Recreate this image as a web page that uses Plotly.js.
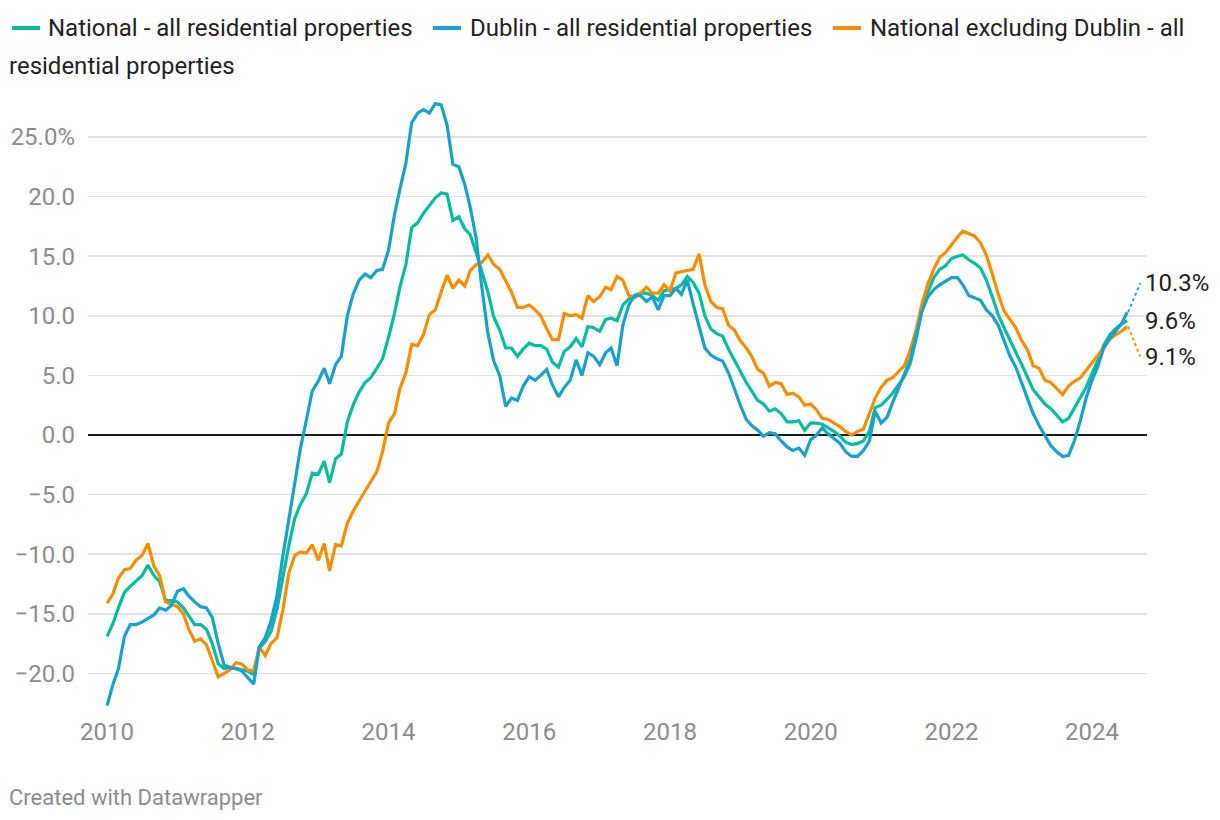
<!DOCTYPE html>
<html>
<head>
<meta charset="utf-8">
<script src="https://cdn.plot.ly/plotly-3.0.1.min.js"></script>
<style>
  html, body { margin: 0; padding: 0; background: #fff; }
  #chart { width: 1220px; height: 820px; }
</style>
</head>
<body>
<div id="chart"></div>
<script>
// ---- Data (monthly, Jan 2010 .. Jul 2024), annual % change ----
const startYear = 2010;
const startMonth = 1;

const national = [
  -16.9, -15.8, -14.5, -13.2, -12.7, -12.2, -11.8, -10.9, -11.8, -12.3, -13.9, -13.9,
  -14.0, -14.5, -15.2, -15.9, -15.9, -16.3, -17.5, -19.2, -19.6, -19.5, -19.6, -19.7,
  -19.8, -20.1, -17.9, -17.3, -16.5, -14.6, -11.8, -9.3, -7.0, -5.8, -4.9, -3.2,
  -3.3, -2.2, -4.0, -2.0, -1.6, 1.1, 2.5, 3.6, 4.4, 4.8, 5.6, 6.4,
  8.2, 10.2, 12.4, 14.3, 17.4, 17.8, 18.6, 19.3, 19.9, 20.3, 20.2, 18.0,
  18.3, 17.3, 16.8, 15.3, 13.6, 12.0, 9.9, 8.8, 7.3, 7.3, 6.6, 7.2,
  7.7, 7.5, 7.5, 7.2, 6.1, 5.7, 7.0, 7.4, 8.1, 7.4, 9.1, 9.0,
  8.7, 9.7, 9.8, 9.6, 10.9, 11.4, 11.7, 11.9, 11.9, 11.7, 11.3, 12.1,
  12.2, 12.3, 12.6, 13.3, 12.8, 11.9, 10.0, 8.9, 8.5, 8.3, 7.2, 6.3,
  5.3, 4.4, 3.7, 2.9, 2.6, 2.0, 2.2, 1.8, 1.1, 1.1, 1.2, 0.4,
  1.0, 1.0, 0.9, 0.6, 0.3, -0.1, -0.6, -0.8, -0.7, -0.5, 0.3, 2.3,
  2.5, 3.0, 3.5, 4.2, 4.9, 6.0, 8.0, 10.5, 12.0, 13.2, 13.9, 14.2,
  14.8, 15.0, 15.1, 14.7, 14.4, 14.0, 13.0, 11.6, 10.1, 9.0, 8.0, 7.0,
  5.9, 4.8, 3.8, 3.2, 2.6, 2.2, 1.7, 1.1, 1.4, 2.3, 3.1, 4.0,
  5.2, 6.3, 7.5, 8.4, 8.9, 9.3, 9.6
];

const dublin = [
  -22.7, -20.9, -19.6, -16.9, -15.9, -15.9, -15.7, -15.4, -15.1, -14.5, -14.7, -14.3,
  -13.1, -12.9, -13.5, -14.0, -14.4, -14.5, -15.3, -17.5, -19.3, -19.5, -19.6, -19.8,
  -20.4, -20.9, -17.8, -17.0, -15.6, -13.5, -10.2, -7.2, -3.9, -1.1, 1.3, 3.7,
  4.5, 5.6, 4.3, 5.9, 6.6, 10.0, 11.8, 13.0, 13.5, 13.2, 13.8, 13.9,
  15.5, 18.5, 20.6, 22.8, 26.2, 27.0, 27.3, 27.0, 27.8, 27.7, 26.0, 22.7,
  22.5, 21.0, 19.1, 16.5, 12.3, 8.5, 6.2, 5.0, 2.4, 3.1, 2.9, 4.1,
  4.9, 4.6, 5.0, 5.5, 4.2, 3.2, 4.0, 4.6, 6.3, 5.0, 6.9, 6.6,
  5.9, 6.9, 7.3, 5.8, 9.2, 10.9, 11.7, 11.7, 11.2, 11.6, 10.5, 11.7,
  11.7, 12.3, 11.8, 13.0, 11.0, 9.0, 7.3, 6.7, 6.4, 6.2, 5.2, 3.9,
  2.5, 1.3, 0.8, 0.4, -0.1, 0.2, 0.1, -0.5, -1.0, -1.3, -1.1, -1.7,
  -0.4, 0.0, 0.6, 0.1, -0.3, -0.7, -1.4, -1.8, -1.8, -1.3, -0.5, 2.0,
  1.0, 1.5, 2.7, 3.9, 5.0, 6.3, 8.3, 10.4, 11.6, 12.2, 12.6, 12.9,
  13.2, 13.2, 12.6, 11.7, 11.5, 11.3, 10.5, 10.0, 9.2, 7.9, 6.6, 5.7,
  4.4, 3.0, 1.8, 0.8, -0.1, -0.9, -1.4, -1.8, -1.7, -0.5, 1.2, 3.1,
  4.6, 5.8, 7.3, 8.1, 8.7, 9.3, 10.3
];

const exDublin = [
  -14.1, -13.3, -12.0, -11.3, -11.2, -10.5, -10.1, -9.1, -11.0, -11.8, -14.0, -14.2,
  -14.4, -15.0, -16.3, -17.3, -17.1, -17.6, -18.9, -20.3, -20.0, -19.7, -19.1, -19.2,
  -19.7, -19.8, -17.8, -18.5, -17.5, -17.0, -14.7, -11.6, -10.1, -9.8, -9.9, -9.2,
  -10.5, -9.1, -11.4, -9.2, -9.3, -7.4, -6.4, -5.5, -4.7, -3.9, -3.1, -1.4,
  1.0, 1.8, 3.9, 5.2, 7.6, 7.5, 8.4, 10.1, 10.5, 12.0, 13.4, 12.3,
  13.0, 12.5, 13.8, 14.3, 14.5, 15.1, 14.3, 13.9, 13.0, 12.0, 10.7, 10.7,
  10.9, 10.5, 10.0, 8.9, 8.0, 8.0, 10.2, 10.0, 10.1, 9.8, 11.7, 11.2,
  11.6, 12.4, 12.2, 13.3, 13.0, 11.7, 11.5, 11.9, 12.4, 11.9, 11.9, 12.6,
  12.1, 13.6, 13.7, 13.8, 13.9, 15.2, 12.6, 11.2, 10.7, 10.6, 9.2, 8.8,
  7.9, 7.3, 6.6, 5.5, 5.2, 4.1, 4.4, 4.3, 3.4, 3.5, 3.2, 2.5,
  2.6, 2.1, 1.4, 1.3, 1.0, 0.7, 0.3, 0.0, 0.3, 0.5, 1.8, 3.1,
  4.0, 4.6, 4.8, 5.3, 5.8, 7.1, 8.8, 11.0, 12.7, 13.9, 14.9, 15.3,
  16.0, 16.6, 17.1, 16.9, 16.7, 16.1, 15.1, 13.5, 11.8, 10.4, 9.7, 9.0,
  7.9, 7.1, 5.8, 5.6, 4.6, 4.4, 3.9, 3.4, 4.1, 4.5, 4.8, 5.4,
  6.0, 6.7, 7.3, 8.0, 8.4, 8.7, 9.1
];

const seriesNames = [
  "National - all residential properties",
  "Dublin - all residential properties",
  "National excluding Dublin - all residential properties"
];

const yTickVals = [-20, -15, -10, -5, 0, 5, 10, 15, 20, 25];
const yTickText = ["\u221220.0", "\u221215.0", "\u221210.0", "\u22125.0", "0.0", "5.0", "10.0", "15.0", "20.0", "25.0%"];
const xTickVals = ["2010-01-01", "2012-01-01", "2014-01-01", "2016-01-01", "2018-01-01", "2020-01-01", "2022-01-01", "2024-01-01"];
const xTickText = ["2010", "2012", "2014", "2016", "2018", "2020", "2022", "2024"];

// ---- Build month dates ----
function pad(n) { return (n < 10 ? "0" : "") + n; }
const dates = national.map((_, i) => {
  const m = startMonth - 1 + i;
  return (startYear + Math.floor(m / 12)) + "-" + pad(m % 12 + 1) + "-01";
});

// ---- Styles ----
const colors = { national: "#09bb9f", dublin: "#18a1cd", ex: "#fa8c00" };
const FONT = "Roboto, 'Noto Sans', sans-serif";
const W = 1220, H = 820;
const M = { l: 88, r: 73, t: 95, b: 108 };
const pw = W - M.l - M.r, ph = H - M.t - M.b;
const px = x => (x - M.l) / pw;
const py = y => (H - M.b - y) / ph;

// x range: 2010-01 at 107px, 2024-01 at 1092px
const t2010 = Date.UTC(2010, 0, 1), t2024 = Date.UTC(2024, 0, 1);
const msPerPx = (t2024 - t2010) / (1092 - 107);
const xr0 = new Date(t2010 - (107 - M.l) * msPerPx).toISOString().slice(0, 10);
const xr1 = new Date(t2010 + (W - M.r - 107) * msPerPx).toISOString().slice(0, 10);

// y range: 0 at 435px, 11.92 px per unit
const ppu = 11.92;
const yr = [(435 - (H - M.b)) / ppu, (435 - M.t) / ppu];

function line(name, y, color) {
  return {
    type: "scatter", mode: "lines", x: dates, y: y, name: name,
    line: { color: color, width: 3.2, shape: "linear" },
    hoverinfo: "skip", showlegend: false
  };
}

const traces = [
  line(seriesNames[0], national, colors.national),
  line(seriesNames[2], exDublin, colors.ex),
  line(seriesNames[1], dublin, colors.dublin)
];

const lastX = dates[dates.length - 1];
const fmt = v => v.toFixed(1) + "%";

const annotations = [
  // legend texts
  { text: seriesNames[0], x: px(46), y: py(28) },
  { text: seriesNames[1], x: px(468), y: py(28) },
  { text: "National excluding Dublin - all", x: px(868), y: py(28) },
  { text: "residential properties", x: px(7), y: py(66) }
].map(a => Object.assign({
  xref: "paper", yref: "paper", xanchor: "left", yanchor: "middle",
  showarrow: false, font: { family: FONT, size: 24, color: "#222" }
}, a));

// end labels
[
  { v: dublin[dublin.length - 1], ys: 29, c: colors.dublin },
  { v: national[national.length - 1], ys: 0, c: colors.national },
  { v: exDublin[exDublin.length - 1], ys: -30.5, c: colors.ex }
].forEach(o => {
  annotations.push({
    x: lastX, y: o.v, xref: "x", yref: "y", xanchor: "left", yanchor: "middle",
    xshift: 16, yshift: o.ys, text: fmt(o.v), showarrow: false,
    font: { family: FONT, size: 24, color: "#222" }
  });
});

// credit
annotations.push({
  xref: "paper", yref: "paper", x: px(7), y: py(797), xanchor: "left", yanchor: "middle",
  text: "Created with Datawrapper", showarrow: false,
  font: { family: FONT, size: 22, color: "#8c8c8c" }
});

const shapes = [];
// legend swatches
[[12, colors.national], [433, colors.dublin], [833, colors.ex]].forEach(([x0, c]) => {
  shapes.push({
    type: "line", xref: "paper", yref: "paper",
    x0: px(x0), x1: px(x0 + 28), y0: py(28), y1: py(28),
    line: { color: c, width: 4 }
  });
});
// dotted connectors from line ends to labels
[
  { v: dublin[dublin.length - 1], dy: 29, c: colors.dublin },
  { v: exDublin[exDublin.length - 1], dy: -30, c: colors.ex }
].forEach(o => {
  shapes.push({
    type: "line", xref: "x", yref: "y",
    xsizemode: "pixel", ysizemode: "pixel", xanchor: lastX, yanchor: o.v,
    x0: 1, y0: 0, x1: 13, y1: o.dy,
    line: { color: o.c, width: 2, dash: "dot" }
  });
});

const layout = {
  width: W, height: H,
  margin: M,
  paper_bgcolor: "#fff", plot_bgcolor: "#fff",
  font: { family: FONT, size: 24, color: "#8c8c8c" },
  showlegend: false,
  xaxis: {
    type: "date", range: [xr0, xr1],
    tickvals: xTickVals, ticktext: xTickText,
    showgrid: false, zeroline: false, showline: false, ticks: "",
    tickfont: { family: FONT, size: 24, color: "#8c8c8c" },
    ticklabelstandoff: 3
  },
  yaxis: {
    range: yr,
    tickvals: yTickVals, ticktext: yTickText,
    showgrid: true, gridcolor: "#e3e3e3", gridwidth: 1.5,
    zeroline: true, zerolinecolor: "#1a1a1a", zerolinewidth: 2,
    showline: false, ticks: "",
    tickfont: { family: FONT, size: 24, color: "#8c8c8c" },
    ticklabelstandoff: 12
  },
  annotations: annotations,
  shapes: shapes
};

Plotly.newPlot("chart", traces, layout, { staticPlot: true, displayModeBar: false });
</script>
</body>
</html>
